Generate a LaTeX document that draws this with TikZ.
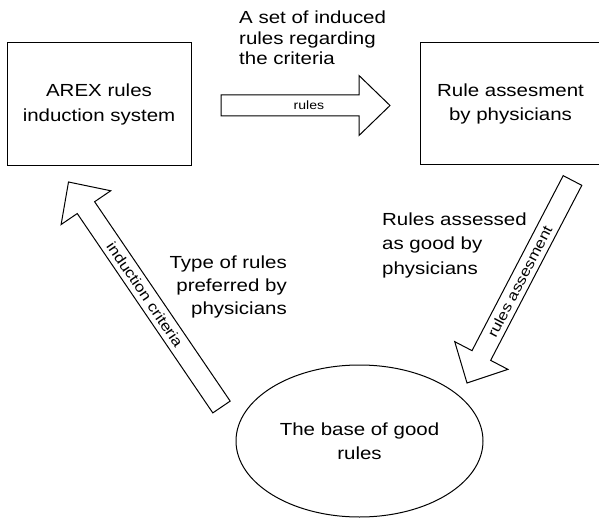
\documentclass[tikz,border=0pt]{standalone}
\usepackage{fontspec}
\setmainfont{Liberation Sans}[FakeStretch=1.17]
\usetikzlibrary{calc,shapes.geometric}

\tikzset{
  box/.style={draw, line width=1pt, align=center, inner sep=0pt},
  txt/.style={inner sep=0pt, font=\fontsize{17.5}{24.5}\selectfont},
  fatarrow/.style={draw, line width=1pt, fill=white, line join=miter},
  arrowlabel/.style={inner sep=0pt, font=\fontsize{14.5}{16}\selectfont}
}

% block arrow: [label style]{tail}{tip}{label}{pos}
\newcommand{\bigarrow}[5][]{%
  \coordinate (#2-b) at ($(#3)!31pt!(#2)$);
  \draw[fatarrow] ($(#2)!10.5pt!90:(#3)$) -- ($(#2-b)!10.5pt!90:(#3)$)
    -- ($(#2-b)!30pt!90:(#3)$) -- (#3) -- ($(#2-b)!30pt!-90:(#3)$)
    -- ($(#2-b)!10.5pt!-90:(#3)$) -- ($(#2)!10.5pt!-90:(#3)$) -- cycle;
  \path (#2) -- (#3) node[pos=#5, sloped, arrowlabel, #1] {#4};
}

\begin{document}
\begin{tikzpicture}[x=1pt, y=-1pt]
\useasboundingbox (0,0) rectangle (599,518);

\node[box, txt, minimum width=184, minimum height=123] (arex) at (99,104.5) {AREX rules\\induction system};
\node[box, txt, minimum width=181, minimum height=122] (assess) at (510.5,104) {Rule assesment\\by physicians};
\node[ellipse, draw, line width=1pt, txt, align=center, minimum width=247, minimum height=152] (base) at (359.5,441) {The base of good\\rules};

\node[txt, anchor=north west, align=left, font=\fontsize{17.5}{20.5}\selectfont] (settext) at (239,11) {A set of induced\\rules regarding\\the criteria};
\node[txt, anchor=north east, align=right, font=\fontsize{17.5}{23}\selectfont] (typetext) at (287,255.5) {Type of rules\\preferred by\\physicians};
\node[txt, anchor=north west, align=left] (goodtext) at (382,212.5) {Rules assessed\\as good by\\physicians};

% arrows
\coordinate (rules-t) at (221,105.5);
\coordinate (rules-h) at (390,105.5);
\bigarrow[font=\fontsize{12}{13}\selectfont]{rules-t}{rules-h}{rules}{0.52}

\coordinate (crit-t) at (221.5,407);
\coordinate (crit-h) at (68.5,182);
\bigarrow{crit-t}{crit-h}{induction criteria}{0.5}

\coordinate (asm-t) at (572.5,180.5);
\coordinate (asm-h) at (467,383);
\bigarrow{asm-t}{asm-h}{rules assesment}{0.5}
\end{tikzpicture}
\end{document}
